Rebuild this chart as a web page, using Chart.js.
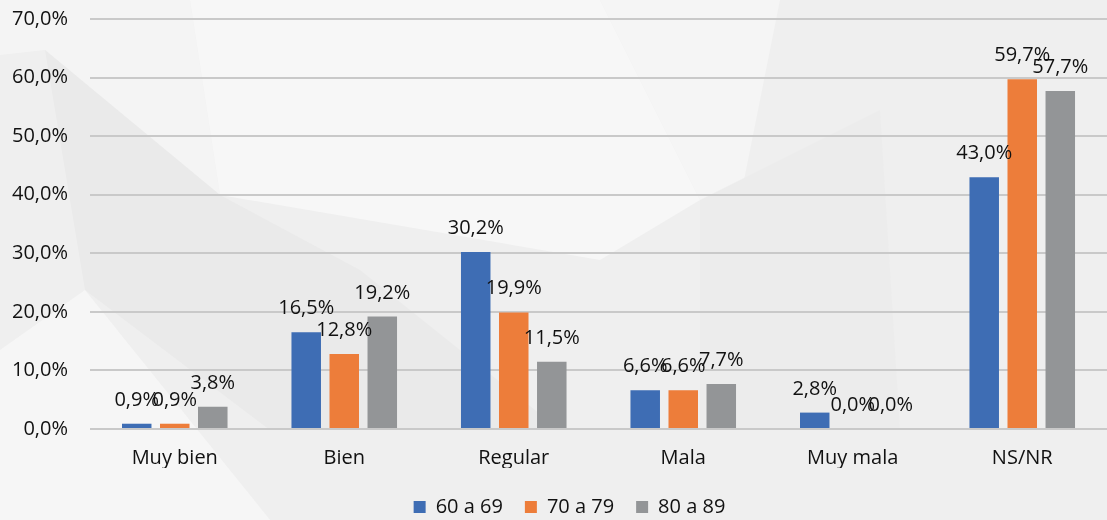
<!DOCTYPE html>
<html>
<head>
<meta charset="utf-8">
<script src="https://cdn.jsdelivr.net/npm/chart.js@4"></script>
<style>
  html, body { margin: 0; padding: 0; }
  #fondo {
    position: relative;
    width: 1107px;
    height: 520px;
    background: #efefef;
  }
  #fondo svg { position: absolute; left: 0; top: 0; }
  #grafico { position: absolute; left: 0; top: 0; }
</style>
</head>
<body>
<div id="fondo">
  <svg width="1107" height="520">
    <polygon points="0,0 190,0 220,195 45,50 0,55" fill="#f4f4f4"/>
    <polygon points="190,0 600,0 700,200 600,260 220,195" fill="#f7f7f7"/>
    <polygon points="45,50 220,195 360,270 560,430 270,430 85,290" fill="#eaeaea"/>
    <polygon points="0,350 85,290 270,520 0,520" fill="#f6f6f6"/>
    <polygon points="600,0 780,0 720,300 700,200" fill="#f5f5f5"/>
    <polygon points="700,200 880,110 900,430 700,430" fill="#ececec"/>
  </svg>
  <canvas id="grafico" width="1107" height="520"></canvas>
</div>
<script>
const categorias = ['Muy bien', 'Bien', 'Regular', 'Mala', 'Muy mala', 'NS/NR'];
const edad60 = [0.9, 16.5, 30.2, 6.6, 2.8, 43.0];
const edad70 = [0.9, 12.8, 19.9, 6.6, 0.0, 59.7];
const edad80 = [3.8, 19.2, 11.5, 7.7, 0.0, 57.7];

const fuente = '"Open Sans", "DejaVu Sans", sans-serif';
const formato = v => v.toFixed(1).replace('.', ',') + '%';

// etiquetas encima de cada barra
const etiquetasBarras = {
  id: 'etiquetasBarras',
  afterDatasetsDraw(chart) {
    const ctx = chart.ctx;
    ctx.save();
    ctx.font = '20px ' + fuente;
    ctx.fillStyle = '#111';
    ctx.textAlign = 'center';
    ctx.textBaseline = 'alphabetic';
    chart.data.datasets.forEach((ds, i) => {
      chart.getDatasetMeta(i).data.forEach((barra, j) => {
        ctx.fillText(formato(ds.data[j]), barra.x, barra.y - 18);
      });
    });
    ctx.restore();
  }
};

// bajar la leyenda y correrla un poco a la derecha
const moverLeyenda = {
  id: 'moverLeyenda',
  afterLayout(chart) {
    const l = chart.legend;
    const d = 507 - (l.top + 22 + 10);
    l.top += d;
    l.bottom += d;
    l.left += 16;
    l.right += 16;
  }
};

const contexto = document.getElementById('grafico').getContext('2d');
new Chart(contexto, {
  type: 'bar',
  data: {
    labels: categorias,
    datasets: [
      { label: '60 a 69', data: edad60, backgroundColor: '#3e6db4' },
      { label: '70 a 79', data: edad70, backgroundColor: '#ed7d3a' },
      { label: '80 a 89', data: edad80, backgroundColor: '#939597' }
    ]
  },
  options: {
    responsive: false,
    animation: false,
    layout: { padding: { top: 19, right: 0, left: 0, bottom: 0 } },
    datasets: {
      bar: { categoryPercentage: 0.673, barPercentage: 0.776 }
    },
    plugins: {
      legend: {
        position: 'bottom',
        labels: {
          boxWidth: 12,
          boxHeight: 12,
          padding: 22,
          color: '#111',
          font: { size: 20, family: fuente }
        }
      },
      tooltip: { enabled: false }
    },
    scales: {
      x: {
        grid: { display: false, drawTicks: false },
        border: { display: false },
        ticks: { color: '#111', padding: 17, font: { size: 20, family: fuente } },
        afterFit: s => { s.height = 520 - 429 - s.chart.legend.height; }
      },
      y: {
        min: 0,
        max: 70,
        grid: { color: '#c9c9c9', lineWidth: 2, drawTicks: true, tickLength: 22, tickColor: 'rgba(0,0,0,0)' },
        border: { display: false },
        ticks: {
          stepSize: 10,
          padding: 0,
          color: '#111',
          font: { size: 20, family: fuente },
          callback: v => formato(v)
        },
        afterFit: s => { s.width = 90; }
      }
    }
  },
  plugins: [etiquetasBarras, moverLeyenda]
});
</script>
</body>
</html>
